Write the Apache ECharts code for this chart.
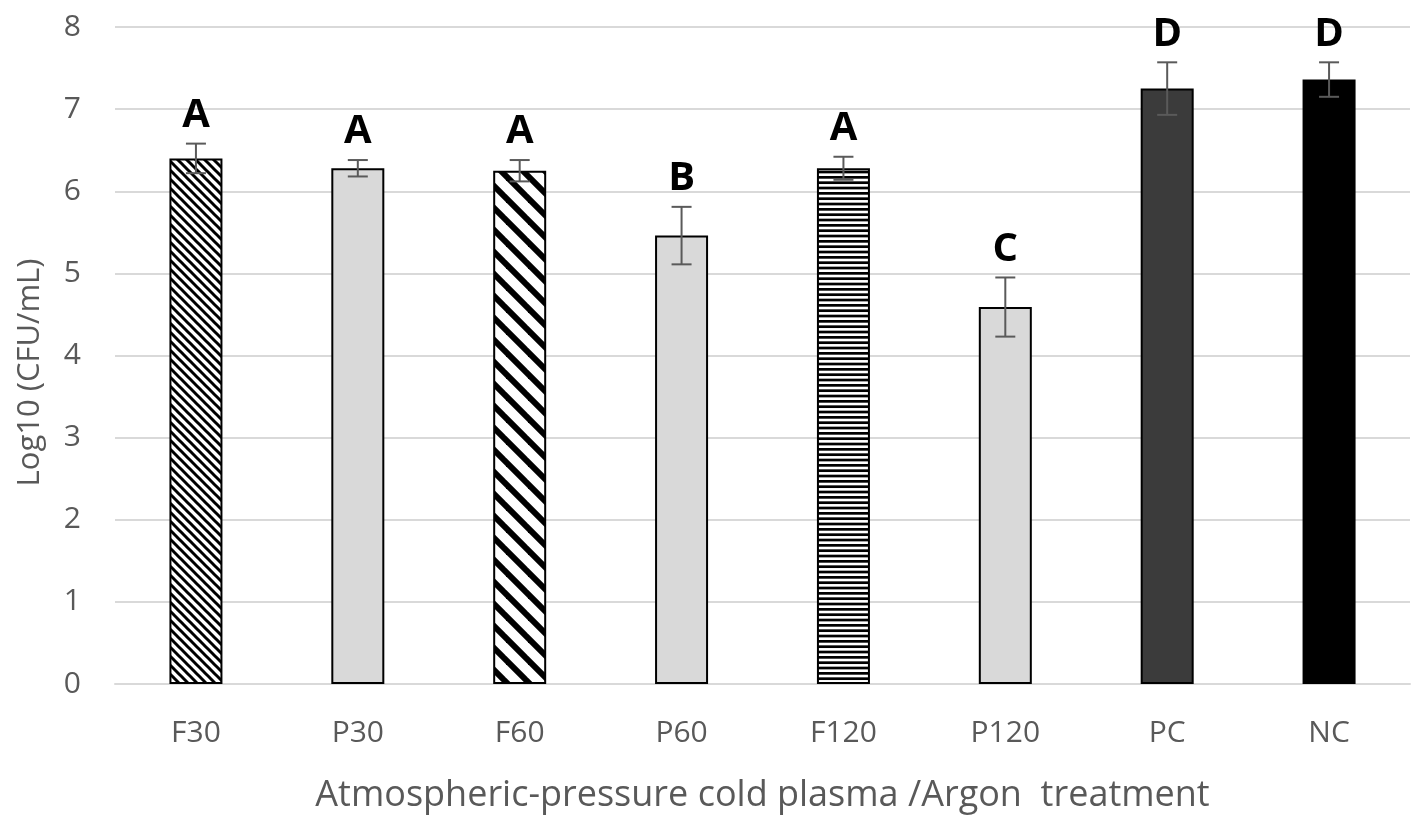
<!DOCTYPE html>
<html><head><meta charset="utf-8">
<script src="https://cdn.jsdelivr.net/npm/echarts@6/dist/echarts.min.js"></script>
<style>html,body{margin:0;padding:0;background:#fff}#c{width:1424px;height:815px}</style>
</head><body><div id="c"></div>
<script>
const categories = ['F30','P30','F60','P60','F120','P120','PC','NC'];
const means = [6.40, 6.28, 6.25, 5.46, 6.28, 4.59, 7.25, 7.36];
const errors = [0.18, 0.10, 0.13, 0.35, 0.14, 0.36, 0.32, 0.21];
const letters = ['A','A','A','B','A','C','D','D'];
const yTicks = [0,1,2,3,4,5,6,7,8];

function diagPattern(size, lw){
  const c = document.createElement('canvas');
  c.width = size; c.height = size;
  const g = c.getContext('2d');
  g.fillStyle = '#fff'; g.fillRect(0,0,size,size);
  g.strokeStyle = '#000'; g.lineWidth = lw;
  for (let k=-2;k<=2;k++){
    const a = k*size;
    g.beginPath(); g.moveTo(a-size,-size); g.lineTo(a+2*size,2*size); g.stroke();
  }
  return c;
}
function horizPattern(size, n, lw){
  const c = document.createElement('canvas');
  c.width = size; c.height = size;
  const g = c.getContext('2d');
  g.fillStyle = '#fff'; g.fillRect(0,0,size,size);
  g.fillStyle = '#000';
  for (let k=0;k<n;k++) g.fillRect(0,k*size/n,size,lw);
  return c;
}
const fills = {
  F30: {image: diagPattern(9, 3), repeat: 'repeat'},
  F60: {image: diagPattern(22, 6), repeat: 'repeat'},
  F120: {image: horizPattern(16, 3, 2.7), repeat: 'repeat'},
  P30: '#d9d9d9', P60: '#d9d9d9', P120: '#d9d9d9',
  PC: '#3b3b3b', NC: '#000000'
};

const font = '"Open Sans", "DejaVu Sans", sans-serif';
const chart = echarts.init(document.getElementById('c'));
chart.setOption({
  animation: false,
  grid: {left: 115, right: 14, top: 27, bottom: 131, outerBoundsMode: 'none', containLabel: false},
  xAxis: {
    type: 'category', data: categories,
    axisLine: {lineStyle: {color: '#d9d9d9', width: 2}},
    axisTick: {show: false},
    axisLabel: {color: '#595959', fontSize: 30, fontFamily: font, margin: 34},
    name: 'Atmospheric-pressure cold plasma /Argon  treatment',
    nameLocation: 'middle', nameGap: 94,
    nameTextStyle: {color: '#595959', fontSize: 36, fontFamily: font}
  },
  yAxis: {
    type: 'value', min: 0, max: 8, interval: 1,
    axisLine: {show: false}, axisTick: {show: false},
    splitLine: {lineStyle: {color: '#d9d9d9', width: 2}},
    axisLabel: {color: '#595959', fontSize: 30, fontFamily: font, margin: 34,
      formatter: v => yTicks.includes(v) ? String(v) : ''},
    name: 'Log10 (CFU/mL)', nameLocation: 'middle', nameGap: 69,
    nameTextStyle: {color: '#595959', fontSize: 31, fontFamily: font, padding: [0, 34, 0, 0]}
  },
  series: [
    {
      type: 'bar', barWidth: 53,
      data: means.map((v,i) => ({value: v, itemStyle: {color: fills[categories[i]], borderColor: '#000', borderWidth: 2}}))
    },
    {
      type: 'custom', z: 5,
      data: means.map((v,i) => [i, v, errors[i]]),
      renderItem: function(params, api){
        const i = api.value(0), m = api.value(1), e = api.value(2);
        const top = api.coord([i, m+e]);
        const bot = api.coord([i, m-e]);
        const x = top[0], hw = 10;
        const s = {stroke: '#5a5a5a', lineWidth: 2};
        return {type: 'group', children: [
          {type: 'line', shape: {x1: x, y1: top[1], x2: x, y2: bot[1]}, style: s},
          {type: 'line', shape: {x1: x-hw, y1: top[1], x2: x+hw, y2: top[1]}, style: s},
          {type: 'line', shape: {x1: x-hw, y1: bot[1], x2: x+hw, y2: bot[1]}, style: s},
          {type: 'text', x: x, y: top[1]-28, style: {text: letters[params.dataIndex], fill: '#000',
            font: 'bold 40px ' + font, textAlign: 'center', textVerticalAlign: 'middle'}}
        ]};
      }
    }
  ]
});
</script></body></html>
